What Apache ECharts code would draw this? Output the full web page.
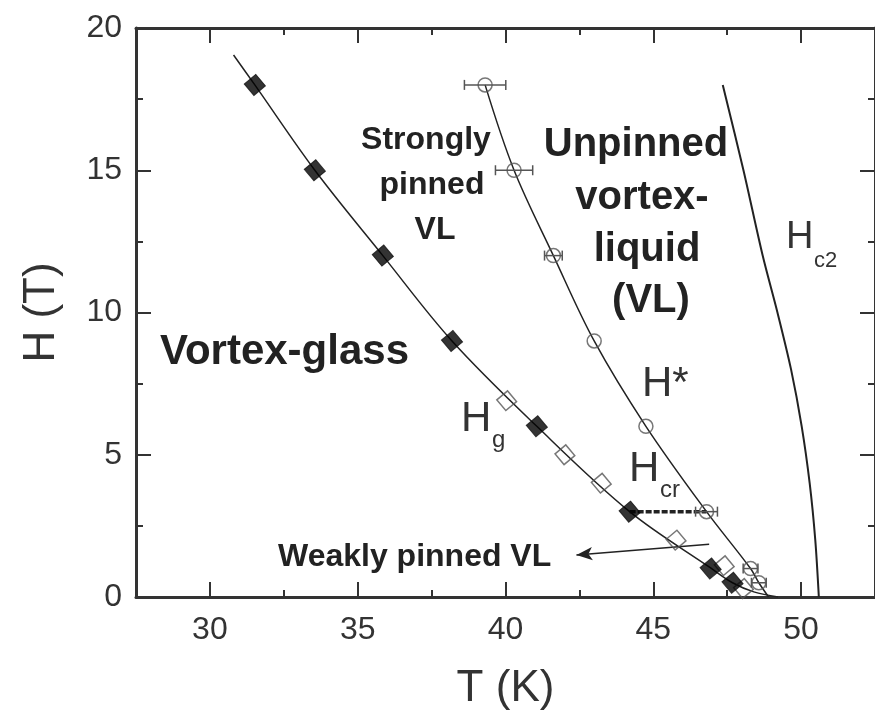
<!DOCTYPE html>
<html>
<head>
<meta charset="utf-8">
<title>H–T phase diagram</title>
<script src="https://cdn.jsdelivr.net/npm/echarts@6/dist/echarts.min.js"></script>
<style>
  html, body { margin: 0; padding: 0; background: #fff; }
  #chart { width: 875px; height: 720px; }
</style>
</head>
<body>
<div id="chart"></div>
<script>
// Axis ticks (temperature in K, field in T)
const tMajorTicks = [30, 35, 40, 45, 50];
const hMajorTicks = [0, 5, 10, 15, 20];

// Hg from resistivity (filled diamonds)
const hgFilledT = [31.52, 33.55, 35.85, 38.19, 41.06, 44.2, 46.94, 47.68];
const hgFilledH = [18, 15, 12, 9, 6, 3, 1, 0.5];

// Hg from a second measurement (open diamonds)
const hgOpenT = [40.04, 42.01, 43.24, 45.77, 47.4, 48.05];
const hgOpenH = [6.9, 5, 4, 2, 1.1, 0.3];

// Hg guide line
const hgFitT = [30.8, 31.52, 33.55, 35.85, 38.19, 41.06, 44.2, 46.94, 47.68, 48.4, 49.22];
const hgFitH = [19.05, 18, 15, 12, 9, 6, 3, 1.02, 0.5, 0.18, 0];

// H* crossover (open circles) with horizontal error half-widths
const hStarT = [39.31, 40.29, 41.62, 43.0, 44.75, 46.8, 48.29, 48.57];
const hStarH = [18, 15, 12, 9, 6, 3, 1, 0.5];
const hStarErr = [0.7, 0.63, 0.3, 0, 0, 0.37, 0.25, 0.25];

// H* guide line
const hStarFitT = [39.31, 40.29, 41.62, 43.0, 44.75, 46.8, 48.29, 48.57, 48.9];
const hStarFitH = [18, 15, 12, 9, 6, 3, 1, 0.5, 0];

// Upper critical field Hc2
const hc2T = [47.35, 48.05, 48.7, 49.2, 49.66, 50.02, 50.29, 50.48, 50.6];
const hc2H = [18, 15, 12, 10, 8, 6, 4, 2, 0];

// Hcr segment (dashed) and the "Weakly pinned VL" pointer
const hcrT = [44.2, 46.8];
const hcrH = [3, 3];
const arrowT = [46.89, 42.4];
const arrowH = [1.85, 1.48];

const pairs = (xs, ys) => xs.map((x, i) => [x, ys[i]]);

const INK = '#222';
const AXIS = '#333';
const FONT = "'Liberation Sans', Arial, Helvetica, sans-serif";

const chart = echarts.init(document.getElementById('chart'), null, { renderer: 'canvas' });

const baseX = {
  type: 'value', min: 27.5, max: 52.5,
  splitLine: { show: false }
};
const baseY = {
  type: 'value', min: 0, max: 20, interval: 5,
  splitLine: { show: false }
};

const option = {
  animation: false,
  backgroundColor: '#fff',
  grid: { left: 136, right: -3, top: 28, bottom: 123, containLabel: false },
  xAxis: [
    Object.assign({}, baseX, {
      position: 'bottom',
      name: 'T (K)', nameLocation: 'middle', nameGap: 70,
      nameTextStyle: { fontFamily: FONT, fontSize: 44, color: AXIS },
      axisLine: { show: true, onZero: false, lineStyle: { color: AXIS, width: 3 } },
      axisTick: { show: true, inside: true, length: 15, customValues: tMajorTicks,
                  lineStyle: { color: AXIS, width: 2 } },
      axisLabel: { show: true, customValues: tMajorTicks, margin: 17,
                   fontFamily: FONT, fontSize: 32, color: AXIS }
    }),
    Object.assign({}, baseX, {
      position: 'bottom', interval: 2.5,
      axisLine: { show: false, onZero: false },
      axisTick: { show: true, inside: true, length: 7, lineStyle: { color: AXIS, width: 2 } },
      axisLabel: { show: false }
    }),
    Object.assign({}, baseX, {
      position: 'top',
      axisLine: { show: true, onZero: false, lineStyle: { color: AXIS, width: 3 } },
      axisTick: { show: true, inside: true, length: 15, customValues: tMajorTicks,
                  lineStyle: { color: AXIS, width: 2 } },
      axisLabel: { show: false }
    }),
    Object.assign({}, baseX, {
      position: 'top', interval: 2.5,
      axisLine: { show: false, onZero: false },
      axisTick: { show: true, inside: true, length: 7, lineStyle: { color: AXIS, width: 2 } },
      axisLabel: { show: false }
    })
  ],
  yAxis: [
    Object.assign({}, baseY, {
      position: 'left',
      name: 'H (T)', nameLocation: 'middle', nameGap: 72, nameRotate: 90,
      nameTextStyle: { fontFamily: FONT, fontSize: 44, color: AXIS },
      axisLine: { show: true, onZero: false, lineStyle: { color: AXIS, width: 3 } },
      axisTick: { show: true, inside: true, length: 15, lineStyle: { color: AXIS, width: 2 } },
      minorTick: { show: true, splitNumber: 2, length: 7, lineStyle: { color: AXIS, width: 2 } },
      axisLabel: { show: true, margin: 14, fontFamily: FONT, fontSize: 32, color: AXIS,
                   customValues: hMajorTicks }
    }),
    Object.assign({}, baseY, {
      position: 'right',
      axisLine: { show: true, onZero: false, lineStyle: { color: AXIS, width: 3 } },
      axisTick: { show: true, inside: true, length: 15, lineStyle: { color: AXIS, width: 2 } },
      minorTick: { show: true, splitNumber: 2, length: 7, lineStyle: { color: AXIS, width: 2 } },
      axisLabel: { show: false }
    })
  ],
  series: [
    {
      name: 'Hc2', type: 'line', data: pairs(hc2T, hc2H),
      smooth: 0.3, showSymbol: false, symbol: 'none',
      lineStyle: { color: INK, width: 2 }, z: 2
    },
    {
      name: 'Hg fit', type: 'line', data: pairs(hgFitT, hgFitH),
      smooth: 0.35, showSymbol: false, symbol: 'none',
      lineStyle: { color: INK, width: 1.5 }, z: 2,
      markLine: {
        silent: true, symbol: ['none', 'arrow'], symbolSize: [10, 16],
        label: { show: false },
        lineStyle: { color: INK, width: 1.5, type: 'solid' },
        emphasis: { disabled: true },
        data: [[
          { coord: [arrowT[0], arrowH[0]] },
          { coord: [arrowT[1], arrowH[1]] }
        ]]
      }
    },
    {
      name: 'H* fit', type: 'line', data: pairs(hStarFitT, hStarFitH),
      smooth: 0.35, showSymbol: false, symbol: 'none',
      lineStyle: { color: INK, width: 1.5 }, z: 2
    },
    {
      name: 'Hcr', type: 'line', data: pairs(hcrT, hcrH),
      showSymbol: false, symbol: 'none',
      lineStyle: { color: INK, width: 3.5, type: [6, 2] }, z: 3
    },
    {
      name: 'H* error', type: 'custom', z: 4,
      data: hStarT.map((t, i) => [t, hStarH[i], hStarErr[i]]),
      renderItem: function (params, api) {
        const err = api.value(2);
        if (!err) return null;
        const t = api.value(0), h = api.value(1);
        const a = api.coord([t - err, h]);
        const b = api.coord([t + err, h]);
        const cap = 5;
        const style = { stroke: '#555', lineWidth: 1.5, fill: null };
        return {
          type: 'group',
          children: [
            { type: 'line', shape: { x1: a[0], y1: a[1], x2: b[0], y2: b[1] }, style: style },
            { type: 'line', shape: { x1: a[0], y1: a[1] - cap, x2: a[0], y2: a[1] + cap }, style: style },
            { type: 'line', shape: { x1: b[0], y1: b[1] - cap, x2: b[0], y2: b[1] + cap }, style: style }
          ]
        };
      }
    },
    {
      name: 'H*', type: 'scatter', data: pairs(hStarT, hStarH),
      symbol: 'circle', symbolSize: 14, z: 5,
      itemStyle: { color: 'rgba(255,255,255,0)', borderColor: '#555', borderWidth: 1.5 }
    },
    {
      name: 'Hg open', type: 'scatter', data: pairs(hgOpenT, hgOpenH),
      symbol: 'rect', symbolSize: 14, symbolRotate: 40, z: 5,
      itemStyle: { color: 'rgba(255,255,255,0)', borderColor: '#555', borderWidth: 1.5 }
    },
    {
      name: 'Hg filled', type: 'scatter', data: pairs(hgFilledT, hgFilledH),
      symbol: 'rect', symbolSize: 15, symbolRotate: 40, z: 6,
      itemStyle: { color: '#000', borderColor: '#111', borderWidth: 1 }
    }
  ],
  graphic: [
    // region names
    { type: 'text', x: 426, y: 140, style: { text: 'Strongly', font: 'bold 32px ' + FONT, fill: INK, align: 'center', verticalAlign: 'middle' } },
    { type: 'text', x: 432, y: 185, style: { text: 'pinned', font: 'bold 32px ' + FONT, fill: INK, align: 'center', verticalAlign: 'middle' } },
    { type: 'text', x: 435, y: 230, style: { text: 'VL', font: 'bold 32px ' + FONT, fill: INK, align: 'center', verticalAlign: 'middle' } },

    { type: 'text', x: 636, y: 145, style: { text: 'Unpinned', font: 'bold 40px ' + FONT, fill: INK, align: 'center', verticalAlign: 'middle' } },
    { type: 'text', x: 642, y: 198, style: { text: 'vortex-', font: 'bold 40px ' + FONT, fill: INK, align: 'center', verticalAlign: 'middle' } },
    { type: 'text', x: 647, y: 250, style: { text: 'liquid', font: 'bold 40px ' + FONT, fill: INK, align: 'center', verticalAlign: 'middle' } },
    { type: 'text', x: 651, y: 301, style: { text: '(VL)', font: 'bold 40px ' + FONT, fill: INK, align: 'center', verticalAlign: 'middle' } },

    { type: 'text', x: 160, y: 352, style: { text: 'Vortex-glass', font: 'bold 42px ' + FONT, fill: INK, align: 'left', verticalAlign: 'middle' } },
    { type: 'text', x: 278, y: 557, style: { text: 'Weakly pinned VL', font: 'bold 32px ' + FONT, fill: INK, align: 'left', verticalAlign: 'middle' } },

    // line names
    { type: 'text', x: 642, y: 384, style: { text: 'H*', font: '42px ' + FONT, fill: AXIS, align: 'left', verticalAlign: 'middle' } },
    { type: 'text', x: 461, y: 419, style: { text: 'H', font: '42px ' + FONT, fill: AXIS, align: 'left', verticalAlign: 'middle' } },
    { type: 'text', x: 492, y: 440, style: { text: 'g', font: '24px ' + FONT, fill: AXIS, align: 'left', verticalAlign: 'middle' } },
    { type: 'text', x: 629, y: 469, style: { text: 'H', font: '42px ' + FONT, fill: AXIS, align: 'left', verticalAlign: 'middle' } },
    { type: 'text', x: 660, y: 490, style: { text: 'cr', font: '24px ' + FONT, fill: AXIS, align: 'left', verticalAlign: 'middle' } },
    { type: 'text', x: 786, y: 238, style: { text: 'H', font: '38px ' + FONT, fill: AXIS, align: 'left', verticalAlign: 'middle' } },
    { type: 'text', x: 814, y: 261, style: { text: 'c2', font: '22px ' + FONT, fill: AXIS, align: 'left', verticalAlign: 'middle' } }
  ]
};

chart.setOption(option);
</script>
</body>
</html>
